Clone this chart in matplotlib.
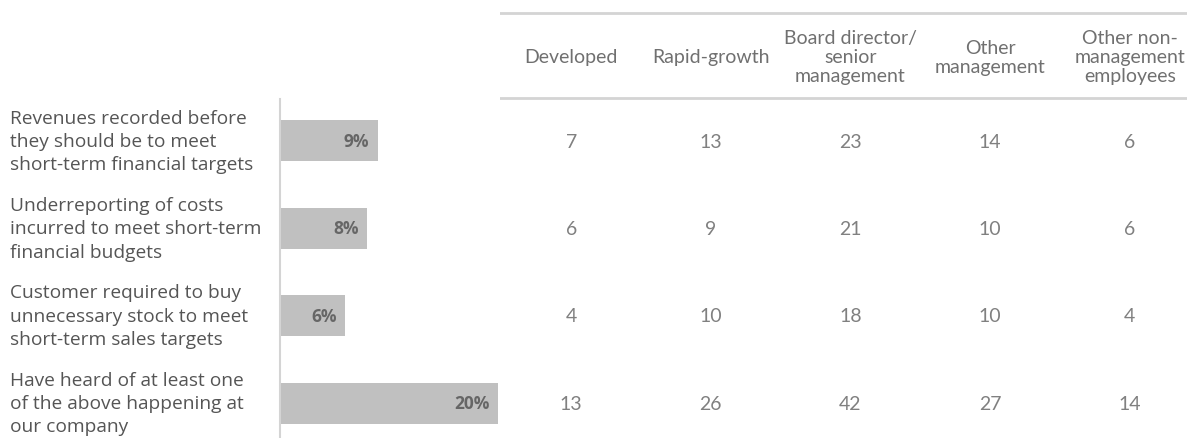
# coding=utf-8
"""
Barras de porcentaje con tabla de desglose a la derecha
"""

import matplotlib
matplotlib.use('Agg')
import matplotlib.pyplot as plt
from matplotlib.transforms import blended_transform_factory

# Datos
items = ['Revenues recorded before\nthey should be to meet\nshort-term financial targets',
         'Underreporting of costs\nincurred to meet short-term\nfinancial budgets',
         'Customer required to buy\nunnecessary stock to meet\nshort-term sales targets',
         'Have heard of at least one\nof the above happening at\nour company']
total = [9, 8, 6, 20]
columnas = ['Developed', 'Rapid-growth', 'Board director/\nsenior\nmanagement',
            'Other\nmanagement', 'Other non-\nmanagement\nemployees']
developed = [7, 6, 4, 13]
rapid_growth = [13, 9, 10, 26]
board = [23, 21, 18, 42]
other_mgmt = [14, 10, 10, 27]
non_mgmt = [6, 6, 4, 14]
tabla = [developed, rapid_growth, board, other_mgmt, non_mgmt]

# Estilo
W, H = 1187, 439
FONT = 'Open Sans'
C_BAR = '#c0c0c0'
C_TXT = '#555555'
C_NUM = '#808080'
C_LINE = '#d4d4d4'

fig = plt.figure(figsize=(W / 100, H / 100), dpi=100)


def px(x0, y0, x1, y1):
    """Rectangulo en pixeles -> fracciones de figura"""
    return [x0 / W, 1 - y1 / H, (x1 - x0) / W, (y1 - y0) / H]


# Eje de barras
ax = fig.add_axes(px(280, 100, 280 + 10.9 * 22, 439))
ax.set_xlim(0, 22)
ax.set_ylim(3.40, -0.48)
ypos = list(range(len(items)))
ax.barh(ypos, total, height=0.47, color=C_BAR)
for s in ['top', 'right', 'bottom']:
    ax.spines[s].set_visible(False)
ax.spines['left'].set_color(C_LINE)
ax.spines['left'].set_linewidth(1.5)
ax.set_xticks([])
ax.set_yticks([])
ax.patch.set_alpha(0)

for y, v in zip(ypos, total):
    ax.text(v - 0.8, y, f'{v}%', ha='right', va='center', fontsize=12.5,
            fontweight='bold', color='#666666', family=FONT)

# Rotulos de la izquierda
tr = blended_transform_factory(fig.transFigure, ax.transData)
for y, t in zip(ypos, items):
    ax.text(10 / W, y, t, transform=tr, ha='left', va='center', fontsize=13.8,
            color=C_TXT, family=FONT, linespacing=1.38)

# Tabla
at = fig.add_axes(px(500, 0, 1187, 439))
at.set_xlim(-0.51, 4.41)
at.set_ylim(3.40, -1.63)
at.axis('off')
at.axhline(-1.47, color=C_LINE, lw=2)
at.axhline(-0.49, color=C_LINE, lw=2)
for j, (col, vals) in enumerate(zip(columnas, tabla)):
    at.text(j, -0.97, col, ha='center', va='center', fontsize=14,
            color='#707070', family='Lato', linespacing=1.15)
    for y, v in zip(ypos, vals):
        at.text(j, y, str(v), ha='center', va='center', fontsize=14,
                color=C_NUM, family='Lato')

fig.savefig('out.png', dpi=100)
